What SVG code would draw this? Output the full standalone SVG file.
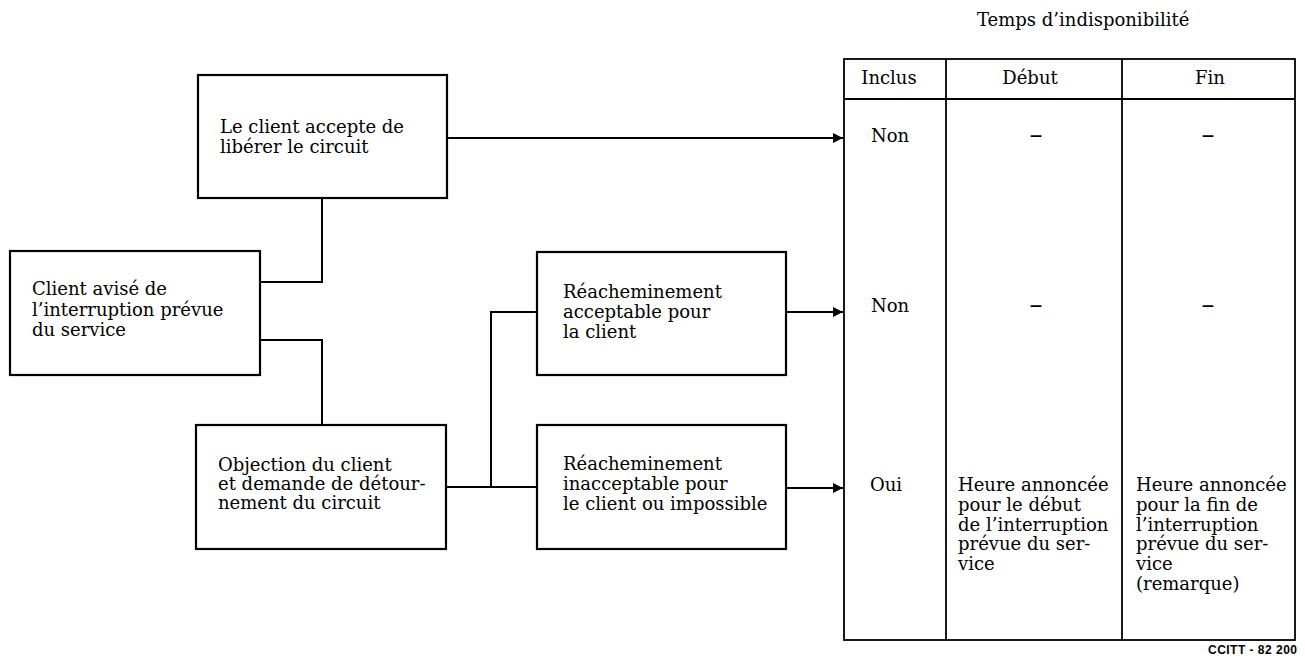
<svg xmlns="http://www.w3.org/2000/svg" width="1305" height="659" viewBox="0 0 1305 659">
<style>
  .box{fill:#fff;stroke:#000;stroke-width:2.2}
  .t{font-family:"DejaVu Serif","Liberation Serif",serif;font-size:18px;fill:#000}
  .c{text-anchor:middle}
  .d{font-family:"DejaVu Serif","Liberation Serif",serif;font-size:26px;fill:#000;text-anchor:middle}
  .ln{fill:none;stroke:#000;stroke-width:2;stroke-linejoin:miter}
  .tb{fill:none;stroke:#000;stroke-width:1.8}
  .lab{font-family:"Liberation Sans",Arial,sans-serif;font-weight:bold;font-size:12px;fill:#000}
</style>
<defs>
  <marker id="ah" viewBox="0 0 10 10" refX="10" refY="5" markerWidth="10" markerHeight="10" markerUnits="userSpaceOnUse" orient="auto">
    <path d="M0,0 L10,5 L0,10 Z" fill="#000"/>
  </marker>
</defs>
<rect width="1305" height="659" fill="#fff"/>

<g id="connectors">
  <path class="ln" d="M447,138 H843" marker-end="url(#ah)"/>
  <path class="ln" d="M322,198 V282 H260"/>
  <path class="ln" d="M260,340 H322 V425"/>
  <path class="ln" d="M446,487 H537"/>
  <path class="ln" d="M491,487 V312 H537"/>
  <path class="ln" d="M786,312 H843" marker-end="url(#ah)"/>
  <path class="ln" d="M786,488 H843" marker-end="url(#ah)"/>
</g>

<g id="n1">
  <rect class="box" x="198" y="75" width="249" height="123"/>
  <text class="t" x="220" y="133">Le client accepte de</text>
  <text class="t" x="220" y="153">libérer le circuit</text>
</g>
<g id="n2">
  <rect class="box" x="10" y="251" width="250" height="124"/>
  <text class="t" x="32" y="295">Client avisé de</text>
  <text class="t" x="32" y="315.5">l’interruption prévue</text>
  <text class="t" x="32" y="336">du service</text>
</g>
<g id="n3">
  <rect class="box" x="196" y="425" width="250" height="124"/>
  <text class="t" x="218" y="471">Objection du client</text>
  <text class="t" x="218" y="490">et demande de détour-</text>
  <text class="t" x="218" y="509">nement du circuit</text>
</g>
<g id="n4">
  <rect class="box" x="537" y="252" width="249" height="123"/>
  <text class="t" x="563" y="298">Réacheminement</text>
  <text class="t" x="563" y="318">acceptable pour</text>
  <text class="t" x="563" y="338">la client</text>
</g>
<g id="n5">
  <rect class="box" x="537" y="425" width="249" height="124"/>
  <text class="t" x="563" y="470">Réacheminement</text>
  <text class="t" x="563" y="490">inacceptable pour</text>
  <text class="t" x="563" y="510">le client ou impossible</text>
</g>

<g id="table">
  <text class="t" x="977" y="26">Temps d’indisponibilité</text>
  <rect class="tb" x="844" y="59" width="451" height="581"/>
  <line class="tb" x1="844" y1="99" x2="1295" y2="99"/>
  <line class="tb" x1="946" y1="59" x2="946" y2="640"/>
  <line class="tb" x1="1122" y1="59" x2="1122" y2="640"/>
  <text class="t c" x="889" y="84">Inclus</text>
  <text class="t c" x="1030" y="84">Début</text>
  <text class="t c" x="1210" y="84">Fin</text>

  <text class="t" x="871" y="142">Non</text>
  <text class="d" x="1036" y="143">–</text>
  <text class="d" x="1208" y="143">–</text>

  <text class="t" x="871" y="312">Non</text>
  <text class="d" x="1036" y="313">–</text>
  <text class="d" x="1208" y="313">–</text>

  <text class="t" x="870" y="491">Oui</text>
  <text class="t" x="958" y="491">Heure annoncée</text>
  <text class="t" x="958" y="511">pour le début</text>
  <text class="t" x="958" y="531">de l’interruption</text>
  <text class="t" x="958" y="550">prévue du ser-</text>
  <text class="t" x="958" y="570">vice</text>
  <text class="t" x="1136" y="491">Heure annoncée</text>
  <text class="t" x="1136" y="511">pour la fin de</text>
  <text class="t" x="1136" y="531">l’interruption</text>
  <text class="t" x="1136" y="550">prévue du ser-</text>
  <text class="t" x="1136" y="570">vice</text>
  <text class="t" x="1136" y="590">(remarque)</text>
</g>

<text class="lab" x="1208" y="654" textLength="89" lengthAdjust="spacing">CCITT - 82 200</text>
</svg>
